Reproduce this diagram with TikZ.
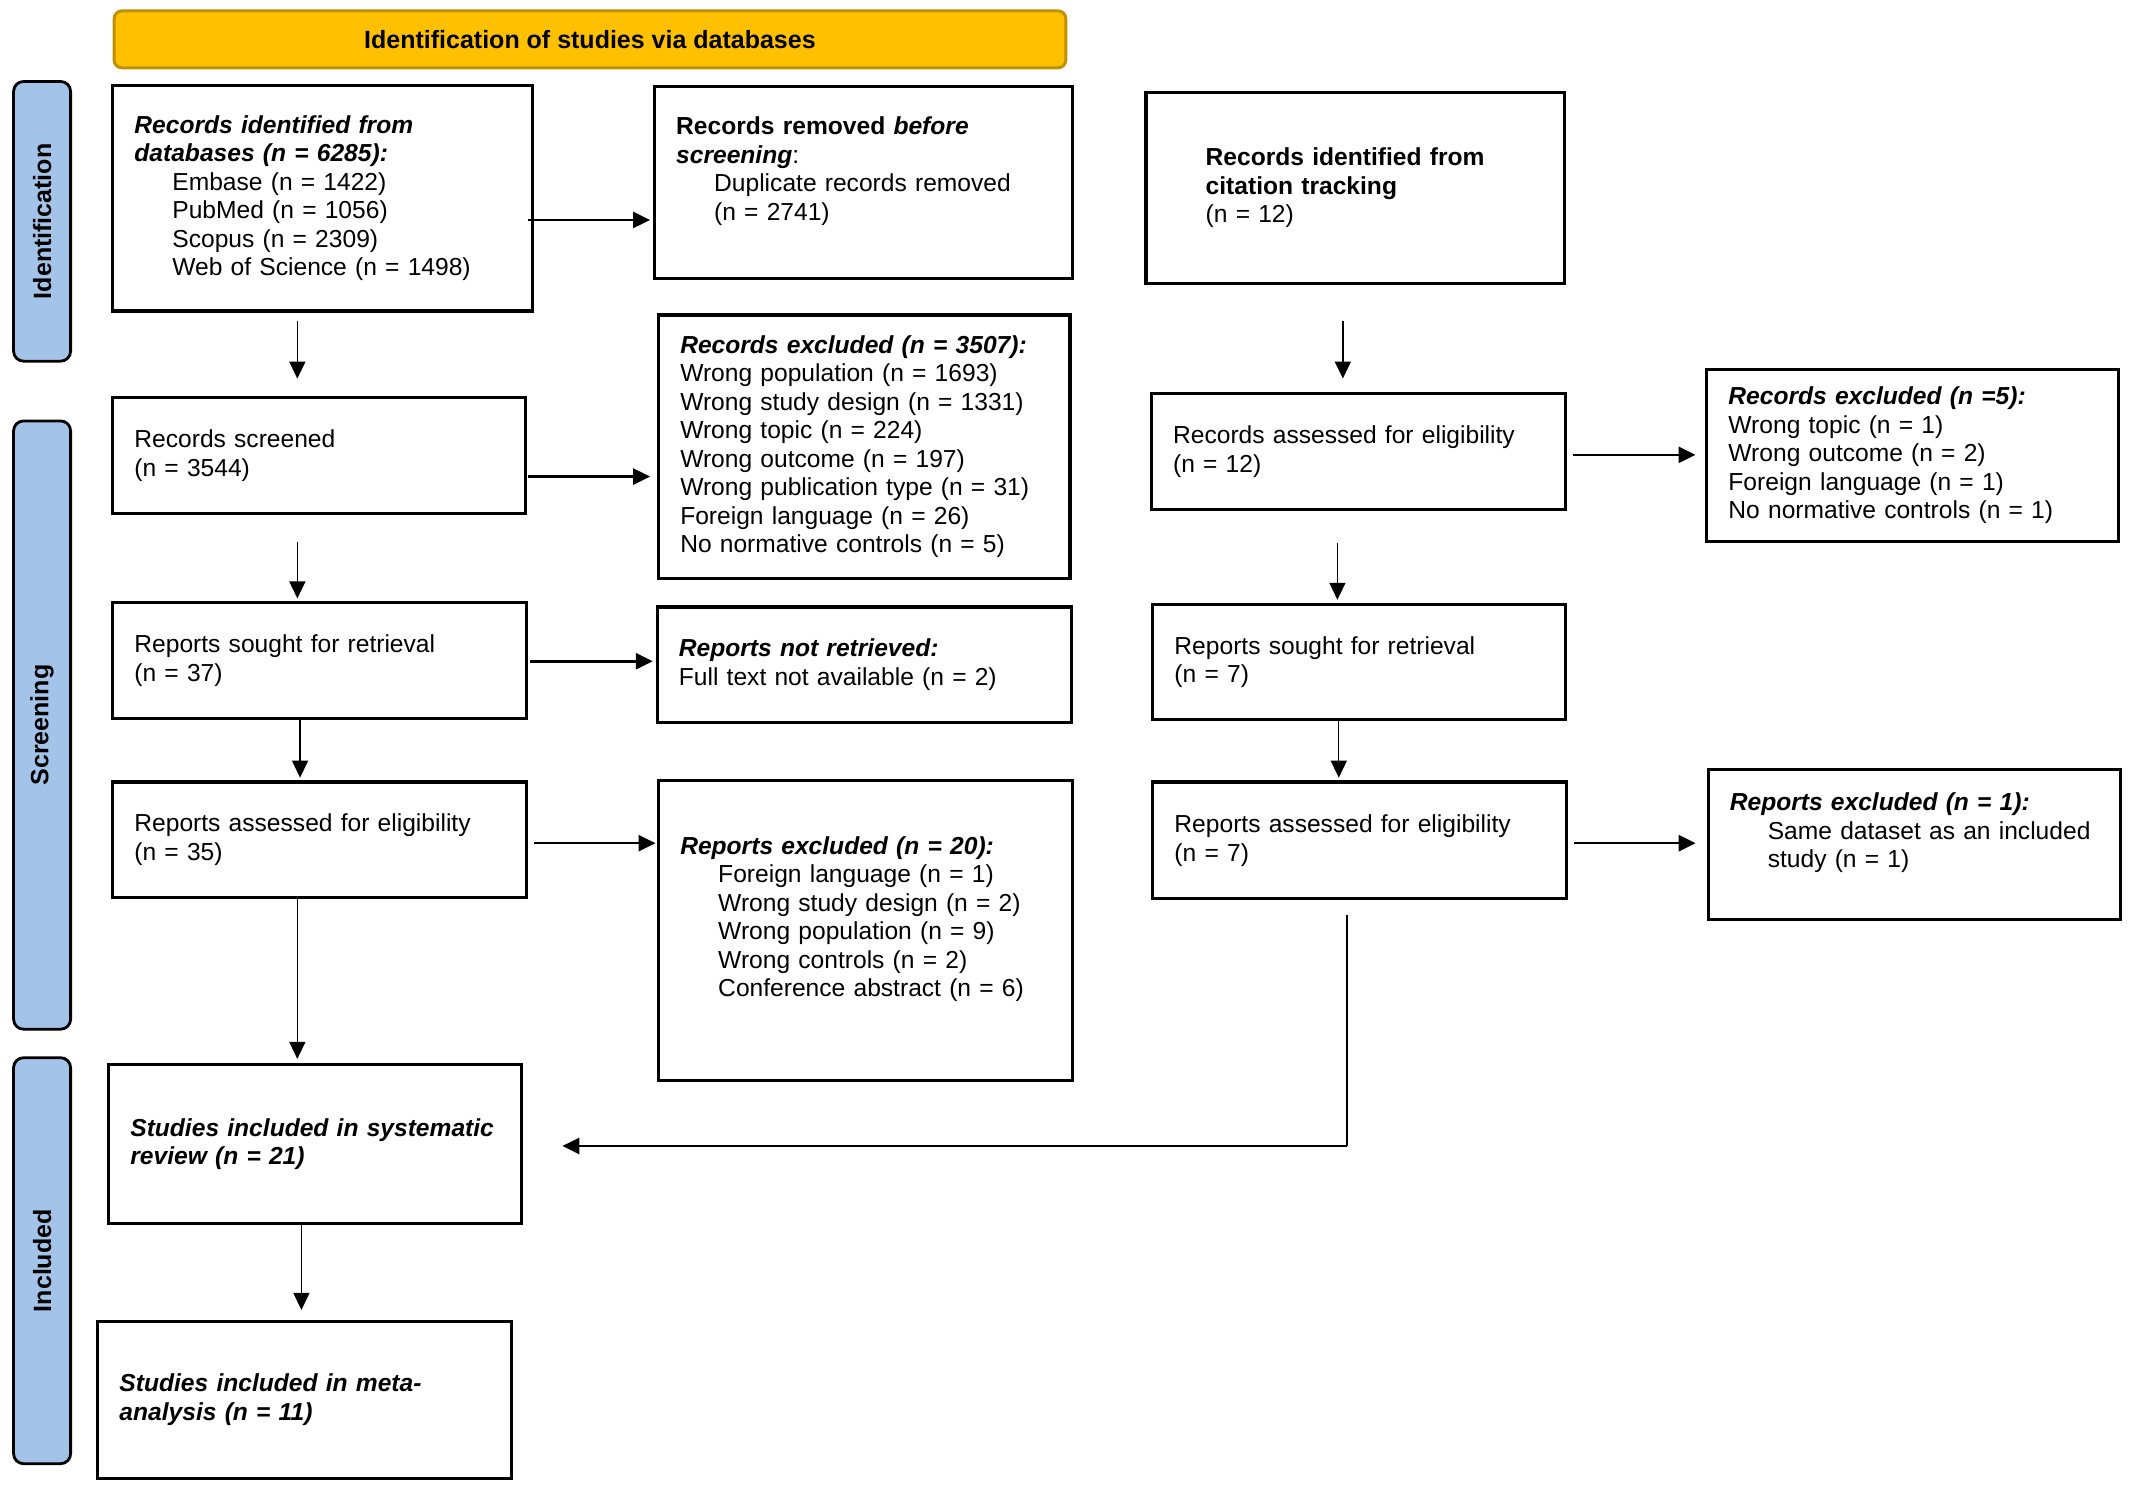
\documentclass[tikz,border=0pt]{standalone}
\usepackage{fontspec}
\setmainfont{Liberation Sans}
\usepackage{tikz}
\usetikzlibrary{calc,shapes,arrows.meta}
\newcommand{\dpx}{0.679pt}
\newcommand{\indt}{\hspace*{19pt}}
\definecolor{bannergold}{HTML}{FFC000}
\definecolor{bannerrim}{HTML}{BF9000}
\definecolor{phaseblue}{HTML}{A4C3E8}

\begin{document}
\begin{tikzpicture}[x=\dpx,y=-\dpx,
    box/.style 2 args={draw, line width=1.6pt, align=left, inner xsep=16*\dpx, inner ysep=0pt,
        minimum width=#1*\dpx, minimum height=#2*\dpx,
        /utils/exec={\pgfmathsetlengthmacro\boxtw{(#1-32)*0.679pt}}, text width=\boxtw,
        font=\fontsize{12.3}{14.26}\selectfont},
    phase/.style={draw, line width=1.4pt, fill=phaseblue, rounded corners=5pt, rotate=90,
        minimum width=#1*\dpx, minimum height=42*\dpx, inner sep=0pt,
        font=\bfseries\fontsize{12.5}{14}\selectfont},
    banner/.style={draw=bannerrim, fill=bannergold, line width=1.5pt, rounded corners=4pt,
        minimum width=701*\dpx, minimum height=42*\dpx, inner sep=0pt,
        font=\bfseries\fontsize{12.5}{14}\selectfont},
    harrow/.style={line width=1.3pt, -{Triangle[length=8.5pt,width=8pt]}},
    varrow/.style={line width=0.7pt, -{Triangle[length=8.5pt,width=8pt]}}]
    \useasboundingbox (0,0) rectangle (1568,1094);

    \node[banner] (top) at (434.5,29) {Identification of studies via databases};
    \node[phase=206] (idn) at (31,163) {Identification};
    \node[phase=448] (scr) at (31,534) {Screening};
    \node[phase=299] (inc) at (31,928.5) {Included};

    \node[box={309}{166}] (dbrec) at (237.5,146) {\textbf{\textit{Records identified from}}\\
        \textbf{\textit{databases (n = 6285):}}\\ \indt Embase (n = 1422)\\ \indt PubMed (n = 1056)\\
        \indt Scopus (n = 2309)\\ \indt Web of Science (n = 1498)};
    \node[box={308}{141}] (dup) at (636,134.5) {\textbf{Records removed \textit{before}}\\
        \textbf{\textit{screening}}:\\ \indt Duplicate records removed\\ \indt (n = 2741)\\ ~};
    \node[box={308}{141}, inner xsep=44*\dpx, text width=149.4pt] (cite) at (998,138.5)
        {\textbf{Records identified from}\\ \textbf{citation tracking}\\ (n = 12)};

    \node[box={304}{85}] (scrn) at (235,335.5) {Records screened\\ (n = 3544)};
    \node[box={303}{194}] (recex) at (636.5,329) {\textbf{\textit{Records excluded (n = 3507):}}\\
        Wrong population (n = 1693)\\ Wrong study design (n = 1331)\\ Wrong topic (n = 224)\\
        Wrong outcome (n = 197)\\ Wrong publication type (n = 31)\\ Foreign language (n = 26)\\
        No normative controls (n = 5)};
    \node[box={305}{85}] (citelig) at (1000.5,332.5) {Records assessed for eligibility\\ (n = 12)};
    \node[box={303}{127}] (citex) at (1408.5,335.5) {\textbf{\textit{Records excluded (n =5):}}\\
        Wrong topic (n = 1)\\ Wrong outcome (n = 2)\\ Foreign language (n = 1)\\
        No normative controls (n = 1)};

    \node[box={305}{85}] (seek) at (235.5,486.5) {Reports sought for retrieval\\ (n = 37)};
    \node[box={305}{85}] (notret) at (636.5,489.5) {\textbf{\textit{Reports not retrieved:}}\\
        Full text not available (n = 2)};
    \node[box={304}{85}] (citeseek) at (1001,487.5) {Reports sought for retrieval\\ (n = 7)};

    \node[box={305}{85}] (elig) at (235.5,618.5) {Reports assessed for eligibility\\ (n = 35)};
    \node[box={305}{221}] (repex) at (637.5,685.5) {\textbf{\textit{Reports excluded (n = 20):}}\\
        \indt Foreign language (n = 1)\\ \indt Wrong study design (n = 2)\\
        \indt Wrong population (n = 9)\\ \indt Wrong controls (n = 2)\\
        \indt Conference abstract (n = 6)\\ ~};
    \node[box={305}{86}] (citeassess) at (1001.5,619) {Reports assessed for eligibility\\ (n = 7)};
    \node[box={304}{110}] (citerepex) at (1410,622) {\textbf{\textit{Reports excluded (n = 1):}}\\
        \indt Same dataset as an included\\ \indt study (n = 1)\\ ~};

    \node[box={304}{117}] (sysrev) at (232,842.5) {\textbf{\textit{Studies included in systematic}}\\
        \textbf{\textit{review (n = 21)}}};
    \node[box={305}{116}] (meta) at (224.5,1031) {\textbf{\textit{Studies included in meta-}}\\
        \textbf{\textit{analysis (n = 11)}}};

    \draw[harrow, shorten >=1.4pt] ($(dbrec.east)+(-4,16)$) coordinate (ab) -- (dup.west |- ab);
    \draw[varrow, shorten >=8.8pt] ($(dbrec.south)+(-18.5,6)$) coordinate (ad) -- (scrn.north -| ad);
    \draw[harrow, shorten >=3.4pt] ($(scrn.east)+(1,15.5)$) coordinate (de) -- (recex.west |- de);
    \draw[varrow, shorten >=1.4pt] ($(scrn.south)+(-16,20)$) coordinate (dh) -- (seek.north -| dh);
    \draw[harrow, shorten >=1.4pt] ($(seek.east)+(1,0.5)$) coordinate (hi) -- (notret.west |- hi);
    \draw[varrow, shorten >=1.4pt] ($(seek.south)+(-14.5,0)$) coordinate (hk) -- (elig.north -| hk);
    \draw[harrow, shorten >=0.7pt] ($(elig.east)+(4,2.5)$) coordinate (kl) -- (repex.west |- kl);
    \draw[varrow, shorten >=2pt] ($(elig.south)+(-16.5,0)$) coordinate (ko) -- (sysrev.north -| ko);
    \draw[varrow, shorten >=4.8pt] ($(sysrev.south)+(-10,0)$) coordinate (op) -- (meta.north -| op);
    \draw[varrow, shorten >=6.8pt] ($(cite.south)+(-9,26)$) coordinate (cf) -- (citelig.north -| cf);
    \draw[harrow, shorten >=4.8pt] ($(citelig.east)+(4,2.5)$) coordinate (fg) -- (citex.west |- fg);
    \draw[varrow, shorten >=1.4pt] ($(citelig.south)+(-15.5,24)$) coordinate (fj) -- (citeseek.north -| fj);
    \draw[varrow, shorten >=1.4pt] ($(citeseek.south)+(-15,0)$) coordinate (jm) -- (citeassess.north -| jm);
    \draw[harrow, shorten >=5.4pt] ($(citeassess.east)+(4,2)$) coordinate (mn) -- (citerepex.west |- mn);
    \coordinate (oin) at ($(sysrev.east)+(0,1.5)$);
    \draw[line width=0.6pt] ($(citeassess.south)+(-9.5,11)$) coordinate (mo) -- (mo |- oin) coordinate (turn);
    \draw[harrow, shorten >=19.7pt] (turn) -- (oin);
\end{tikzpicture}
\end{document}
